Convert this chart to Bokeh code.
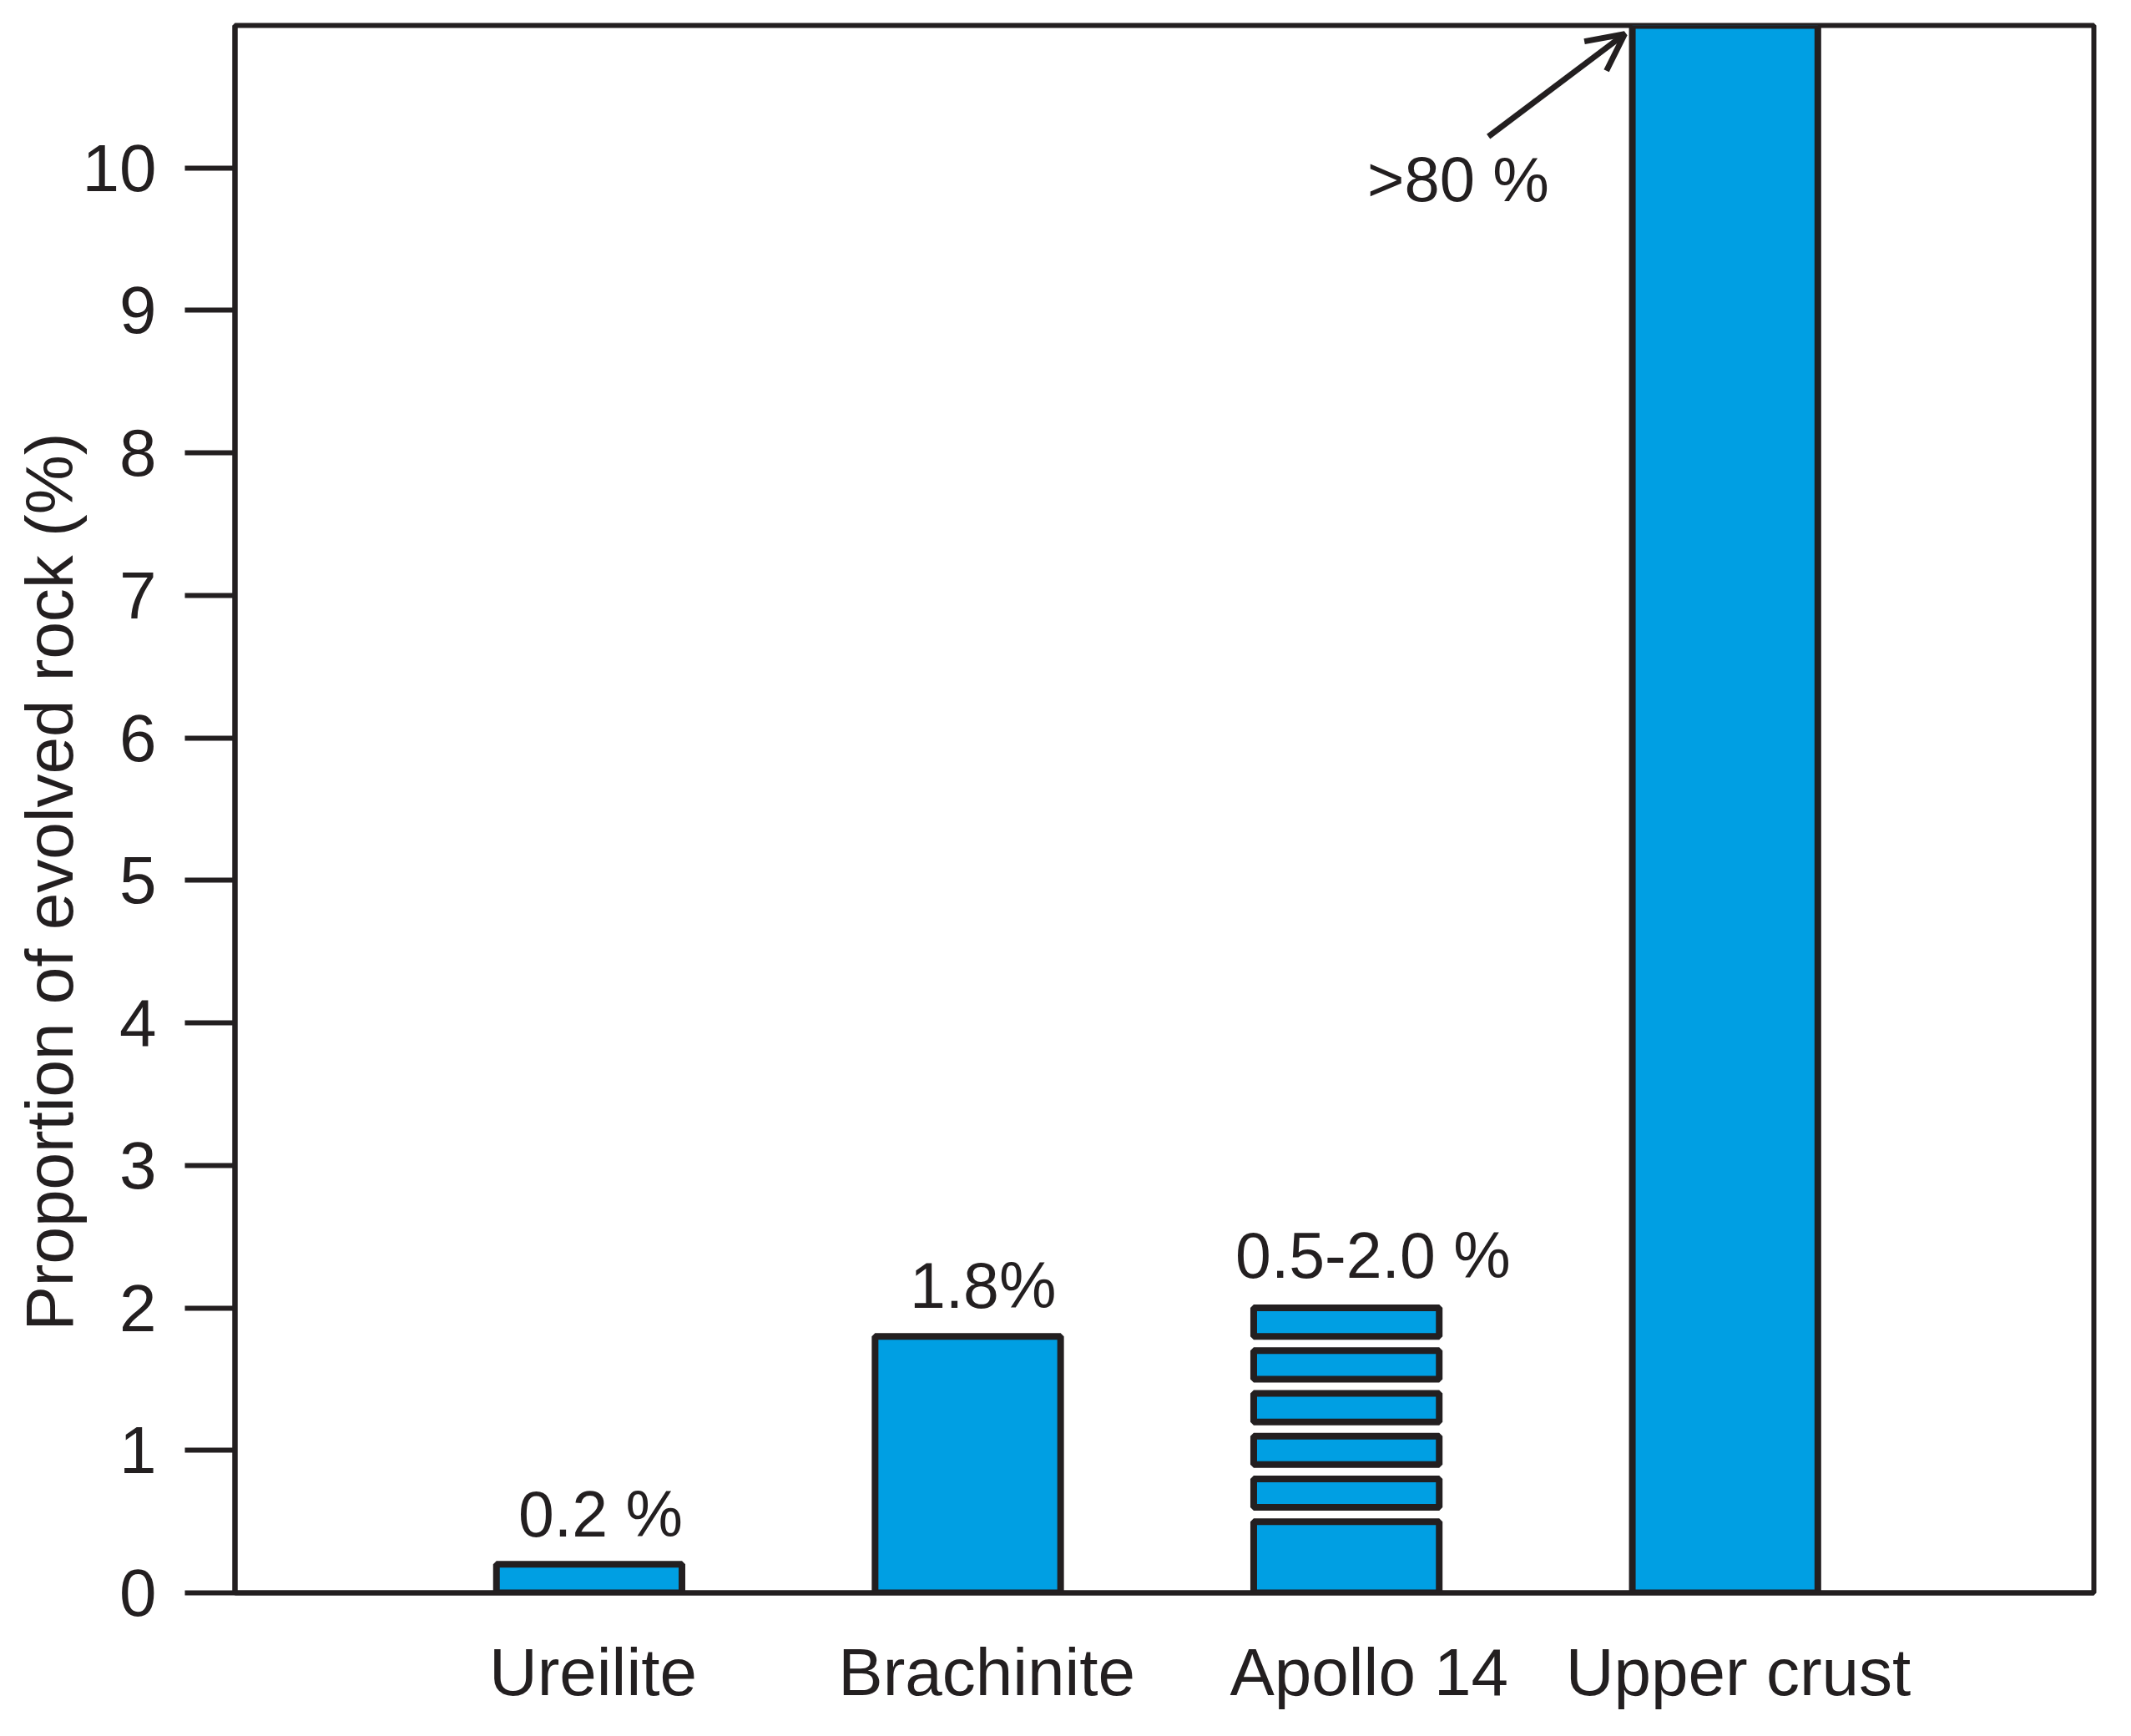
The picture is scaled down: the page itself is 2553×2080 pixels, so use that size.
from bokeh.plotting import figure
from bokeh.models import Range1d, FixedTicker, Arrow, OpenHead, ColumnDataSource, Title
from bokeh.embed import file_html
from bokeh.resources import INLINE
from bokeh.core.properties import value

# ---- data ----
categories = ["Ureilite", "Brachinite", "Apollo 14", "Upper crust"]
cat_pos = [1, 2, 3, 4]
cat_label_shift = [0.01, 0.05, 0.06, 0.035]   # category names sit slightly right of the bars
bar_pos = [1, 2, 4]
bar_values = [0.2, 1.8, 80.0]          # Upper crust is >80 %, clipped by the axis
apollo_bottoms = [0.0, 0.6, 0.9, 1.2, 1.5, 1.8]
apollo_tops = [0.5, 0.8, 1.1, 1.4, 1.7, 2.0]
label_texts = ["0.2 %", "1.8%", "0.5-2.0 %"]
label_values = [0.2, 1.8, 2.0]
label_dx = [0.03, 0.04, 0.07]
label_dy = [0.355, 0.36, 0.37]
y_ticks = list(range(0, 11))
y_max = 11
crust_text = ">80 %"
y_title = "Proportion of evolved rock (%)"

FONT = "Liberation Sans"
INK = "#231F20"
BLUE = "#009FE3"
BAR_W = 0.49

p = figure(width=2537, height=2064, output_backend="svg", toolbar_location=None,
           x_range=Range1d(0.0644, 4.974), y_range=Range1d(0, y_max),
           min_border_left=281, min_border_right=29, min_border_top=30, min_border_bottom=156)
p.background_fill_color = "white"
p.border_fill_color = "white"
p.xgrid.visible = False
p.ygrid.visible = False
p.outline_line_color = INK
p.outline_line_width = 6

# solid bars
src = ColumnDataSource(dict(x=bar_pos, top=bar_values))
p.vbar(x="x", top="top", bottom=0, width=BAR_W, source=src,
       fill_color=BLUE, line_color=INK, line_width=8)

# striped Apollo 14 bar (range 0.5-2.0 %)
asrc = ColumnDataSource(dict(x=[cat_pos[2]] * len(apollo_tops), bottom=apollo_bottoms, top=apollo_tops))
p.vbar(x="x", top="top", bottom="bottom", width=BAR_W, source=asrc,
       fill_color=BLUE, line_color=INK, line_width=8)

# value labels
lsrc = ColumnDataSource(dict(
    x=[c + d for c, d in zip([cat_pos[0], cat_pos[1], cat_pos[2]], label_dx)],
    y=[v + d for v, d in zip(label_values, label_dy)],
    t=label_texts))
p.text(x="x", y="y", text="t", source=lsrc, text_font=value(FONT), text_font_size="77px",
       text_color=INK, text_align="center", text_baseline="alphabetic")

# ">80 %" annotation with arrow
crust_left = cat_pos[3] - BAR_W / 2
p.text(x=[crust_left - 0.46], y=[y_max - 1.08], text=[crust_text], text_font=value(FONT),
       text_font_size="76px", text_color=INK, text_align="center", text_baseline="alphabetic")
p.add_layout(Arrow(end=OpenHead(size=44, line_width=7, line_color=INK),
                   x_start=crust_left - 0.38, y_start=y_max - 0.78,
                   x_end=crust_left - 0.02, y_end=y_max - 0.06,
                   line_width=7, line_color=INK))

# y axis
ya = p.yaxis[0]
ya.ticker = FixedTicker(ticks=y_ticks)
ya.major_label_text_font = FONT
ya.major_label_text_font_size = "80px"
ya.major_label_text_color = INK
ya.major_label_standoff = 34
ya.major_tick_out = 60
ya.major_tick_in = 0
ya.major_tick_line_width = 6
ya.major_tick_line_color = INK
ya.minor_tick_line_color = None
ya.axis_line_width = 6
ya.axis_line_color = INK

# y-axis title, placed lower than the frame centre as in the reference
p.add_layout(Title(text=y_title, align="left", offset=314, standoff=-17,
                   text_font=FONT, text_font_size="80px", text_font_style="normal",
                   text_color=INK), "left")

# x axis
label_ticks = [c + s for c, s in zip(cat_pos, cat_label_shift)]
xa = p.xaxis[0]
xa.ticker = FixedTicker(ticks=label_ticks)
xa.major_label_overrides = {t: n for t, n in zip(label_ticks, categories)}
xa.major_label_text_font = FONT
xa.major_label_text_font_size = "80px"
xa.major_label_text_color = INK
xa.major_label_standoff = 50
xa.major_tick_out = 0
xa.major_tick_in = 0
xa.minor_tick_line_color = None
xa.axis_line_width = 6
xa.axis_line_color = INK

open("out.html", "w").write(file_html(p, INLINE))
